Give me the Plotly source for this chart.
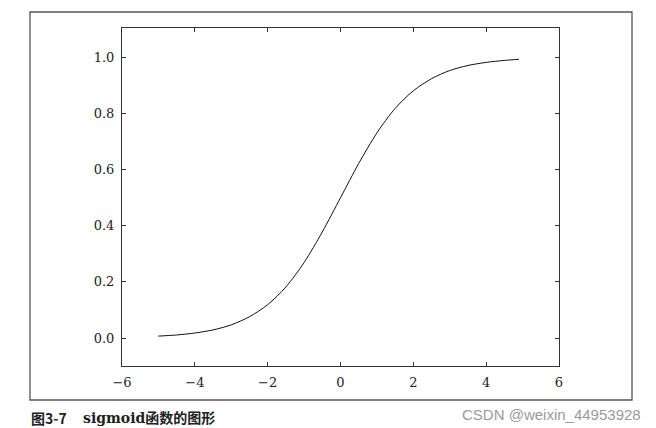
import plotly.graph_objects as go

# Values (sigmoid curve samples)
x_vals = [-5.0, -4.5, -4.0, -3.5, -3.0, -2.5, -2.0, -1.5, -1.0, -0.5, 0.0,
          0.5, 1.0, 1.5, 2.0, 2.5, 3.0, 3.5, 4.0, 4.5, 4.9]
y_vals = [0.007, 0.011, 0.018, 0.029, 0.047, 0.076, 0.119, 0.182, 0.269, 0.378, 0.500,
          0.622, 0.731, 0.818, 0.881, 0.924, 0.953, 0.971, 0.982, 0.989, 0.993]

x_ticks = [-6, -4, -2, 0, 2, 4, 6]
x_tick_text = ["−6", "−4", "−2", "0", "2", "4", "6"]
y_ticks = [0.0, 0.2, 0.4, 0.6, 0.8, 1.0]
y_tick_text = ["0.0", "0.2", "0.4", "0.6", "0.8", "1.0"]

caption_num = "图3-7"
caption_text = "sigmoid函数的图形"
watermark = "CSDN @weixin_44953928"

W, H = 656, 428
L, R, T, B = 122, 559, 28, 366

def px(xp):
    return (xp - L) / (R - L)

def py(yp):
    return (B - yp) / (B - T)

fig = go.Figure()
fig.add_trace(go.Scatter(x=x_vals, y=y_vals, mode="lines",
                         line=dict(color="#111111", width=1, shape="spline", smoothing=0.8),
                         showlegend=False, hoverinfo="skip"))

tick_font = dict(family="DejaVu Serif, Liberation Serif, serif", size=13, color="#222222")

fig.update_xaxes(range=[-6, 6], tickvals=x_ticks, ticktext=x_tick_text,
                 showgrid=False, zeroline=False, showline=True, linecolor="#333333",
                 linewidth=1, mirror="ticks", ticks="inside", ticklen=4, tickwidth=1,
                 tickcolor="#333333", tickfont=tick_font, ticklabelstandoff=4)
fig.update_yaxes(range=[-0.0995, 1.1045], tickvals=y_ticks, ticktext=y_tick_text,
                 showgrid=False, zeroline=False, showline=True, linecolor="#333333",
                 linewidth=1, mirror="ticks", ticks="inside", ticklen=4, tickwidth=1,
                 tickcolor="#333333", tickfont=tick_font, ticklabelstandoff=4)

fig.add_shape(type="rect", xref="paper", yref="paper",
              x0=px(30), x1=px(632), y0=py(400), y1=py(12),
              line=dict(color="#555555", width=1.3), fillcolor="rgba(0,0,0,0)")

fig.add_annotation(xref="paper", yref="paper", x=px(30), y=py(418),
                   xanchor="left", yanchor="middle", showarrow=False, borderpad=0,
                   text="<b>" + caption_num + "</b>",
                   font=dict(family="Noto Sans CJK SC, DejaVu Serif, serif", size=14, color="#222222"))
fig.add_annotation(xref="paper", yref="paper", x=px(82), y=py(418),
                   xanchor="left", yanchor="middle", showarrow=False, borderpad=0,
                   text="<b>" + caption_text + "</b>",
                   font=dict(family="DejaVu Serif, Noto Sans CJK SC, serif", size=14, color="#222222"))
fig.add_annotation(xref="paper", yref="paper", x=px(461), y=py(414),
                   xanchor="left", yanchor="middle", showarrow=False, borderpad=0,
                   text=watermark,
                   font=dict(family="Liberation Sans, Arial, sans-serif", size=15, color="#9a9a9a"))

fig.update_layout(width=W, height=H, margin=dict(l=L, r=W - R, t=T, b=H - B),
                  paper_bgcolor="white", plot_bgcolor="white")

fig.write_html("out.html", config={"displayModeBar": False},
               post_script="document.body.style.margin='0';document.body.style.overflow='hidden';")
